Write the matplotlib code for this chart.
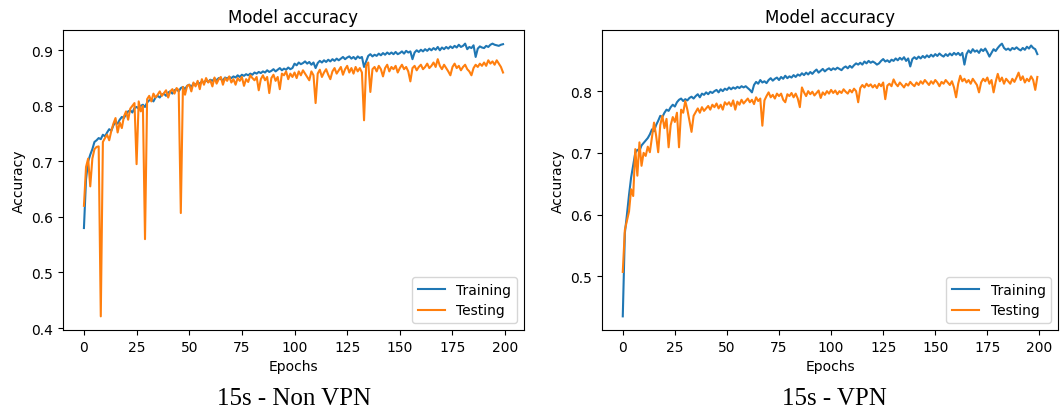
import matplotlib.pyplot as plt
import numpy as np

# accuracy per epoch, 15s windows, non-VPN traffic
nonvpn_train = [
    0.580, 0.668, 0.700, 0.712, 0.722, 0.735, 0.738, 0.742, 0.740, 0.748,
    0.745, 0.752, 0.758, 0.755, 0.765, 0.770, 0.768, 0.775, 0.780, 0.778,
    0.785, 0.790, 0.792, 0.788, 0.796, 0.798, 0.795, 0.800, 0.802, 0.798,
    0.806, 0.810, 0.812, 0.808, 0.815, 0.818, 0.815, 0.820, 0.822, 0.818,
    0.824, 0.826, 0.822, 0.828, 0.830, 0.826, 0.832, 0.834, 0.830, 0.836,
    0.838, 0.834, 0.840, 0.838, 0.842, 0.840, 0.844, 0.842, 0.846, 0.843,
    0.847, 0.845, 0.849, 0.846, 0.850, 0.848, 0.846, 0.851, 0.849, 0.852,
    0.850, 0.853, 0.851, 0.855, 0.852, 0.856, 0.854, 0.857, 0.855, 0.858,
    0.856, 0.860, 0.858, 0.861, 0.859, 0.862, 0.860, 0.864, 0.861, 0.863,
    0.866, 0.862, 0.865, 0.868, 0.864, 0.867, 0.865, 0.869, 0.866, 0.868,
    0.876, 0.873, 0.878, 0.875, 0.877, 0.880, 0.876, 0.879, 0.874, 0.878,
    0.868, 0.877, 0.881, 0.878, 0.882, 0.879, 0.883, 0.880, 0.884, 0.881,
    0.885, 0.882, 0.885, 0.888, 0.884, 0.887, 0.889, 0.885, 0.888, 0.884,
    0.889, 0.886, 0.888, 0.870, 0.880, 0.890, 0.893, 0.889, 0.892, 0.890,
    0.894, 0.891, 0.895, 0.892, 0.896, 0.893, 0.896, 0.893, 0.897, 0.893,
    0.895, 0.898, 0.894, 0.899, 0.896, 0.898, 0.884, 0.896, 0.900, 0.897,
    0.901, 0.898, 0.902, 0.899, 0.903, 0.900, 0.904, 0.901, 0.906, 0.900,
    0.905, 0.902, 0.906, 0.903, 0.907, 0.904, 0.908, 0.905, 0.910, 0.906,
    0.908, 0.912, 0.902, 0.906, 0.904, 0.909, 0.888, 0.903, 0.907, 0.905,
    0.904, 0.908, 0.906, 0.910, 0.912, 0.910, 0.909, 0.908, 0.910, 0.911,
]
nonvpn_test = [
    0.620, 0.690, 0.705, 0.655, 0.705, 0.722, 0.726, 0.727, 0.421, 0.735,
    0.742, 0.748, 0.738, 0.755, 0.768, 0.778, 0.752, 0.770, 0.760, 0.781,
    0.790, 0.775, 0.795, 0.800, 0.805, 0.695, 0.808, 0.790, 0.800, 0.560,
    0.812, 0.818, 0.808, 0.822, 0.815, 0.820, 0.826, 0.818, 0.823, 0.828,
    0.815, 0.826, 0.830, 0.822, 0.832, 0.828, 0.607, 0.834, 0.820, 0.836,
    0.838, 0.826, 0.842, 0.835, 0.845, 0.830, 0.848, 0.838, 0.850, 0.842,
    0.846, 0.835, 0.851, 0.840, 0.848, 0.852, 0.838, 0.850, 0.845, 0.853,
    0.842, 0.848, 0.838, 0.850, 0.845, 0.852, 0.836, 0.848, 0.843, 0.855,
    0.850, 0.846, 0.852, 0.828, 0.848, 0.855, 0.846, 0.852, 0.823, 0.850,
    0.856, 0.845, 0.852, 0.830, 0.858, 0.855, 0.862, 0.848, 0.858, 0.852,
    0.860, 0.850, 0.862, 0.855, 0.864, 0.858, 0.852, 0.846, 0.862, 0.855,
    0.805, 0.858, 0.865, 0.852, 0.860, 0.866, 0.856, 0.848, 0.862, 0.868,
    0.858, 0.864, 0.870, 0.856, 0.866, 0.872, 0.860, 0.868, 0.858, 0.870,
    0.862, 0.868, 0.860, 0.774, 0.872, 0.878, 0.825, 0.866, 0.870, 0.862,
    0.872, 0.866, 0.853, 0.868, 0.874, 0.862, 0.870, 0.866, 0.872, 0.860,
    0.868, 0.874, 0.866, 0.870, 0.862, 0.844, 0.868, 0.872, 0.864, 0.870,
    0.874, 0.866, 0.870, 0.876, 0.868, 0.872, 0.878, 0.870, 0.884, 0.872,
    0.866, 0.874, 0.868, 0.862, 0.855, 0.870, 0.876, 0.868, 0.872, 0.864,
    0.870, 0.874, 0.866, 0.862, 0.855, 0.868, 0.874, 0.870, 0.876, 0.872,
    0.878, 0.872, 0.882, 0.876, 0.880, 0.874, 0.882, 0.876, 0.870, 0.860,
]

# accuracy per epoch, 15s windows, VPN traffic
vpn_train = [
    0.435, 0.570, 0.600, 0.632, 0.660, 0.680, 0.700, 0.705, 0.703, 0.712,
    0.716, 0.720, 0.724, 0.730, 0.738, 0.735, 0.745, 0.752, 0.760, 0.758,
    0.765, 0.770, 0.768, 0.774, 0.778, 0.775, 0.782, 0.786, 0.788, 0.784,
    0.787, 0.785, 0.789, 0.791, 0.788, 0.792, 0.795, 0.790, 0.796, 0.794,
    0.798, 0.795, 0.799, 0.797, 0.800, 0.802, 0.798, 0.803, 0.800, 0.804,
    0.802, 0.806, 0.803, 0.806, 0.804, 0.807, 0.805, 0.808, 0.806, 0.808,
    0.805, 0.802, 0.798, 0.810, 0.815, 0.812, 0.818, 0.814, 0.816, 0.813,
    0.818, 0.821, 0.817, 0.820, 0.822, 0.818, 0.823, 0.820, 0.825, 0.821,
    0.824, 0.822, 0.826, 0.823, 0.827, 0.825, 0.829, 0.826, 0.830, 0.827,
    0.831, 0.828, 0.832, 0.835, 0.830, 0.833, 0.836, 0.832, 0.835, 0.837,
    0.834, 0.837, 0.835, 0.838, 0.836, 0.834, 0.838, 0.840, 0.837, 0.841,
    0.838, 0.842, 0.845, 0.843, 0.846, 0.843, 0.848, 0.845, 0.849, 0.846,
    0.848, 0.846, 0.843, 0.845, 0.849, 0.852, 0.848, 0.850, 0.847, 0.851,
    0.849, 0.853, 0.850, 0.854, 0.851, 0.855, 0.849, 0.853, 0.840, 0.852,
    0.855, 0.852, 0.856, 0.853, 0.857, 0.854, 0.858, 0.855, 0.859, 0.856,
    0.860, 0.857, 0.861, 0.858, 0.856, 0.860, 0.857, 0.861, 0.858, 0.862,
    0.859, 0.862, 0.858, 0.862, 0.843, 0.860, 0.866, 0.862, 0.868, 0.864,
    0.866, 0.862, 0.868, 0.865, 0.869, 0.863, 0.856, 0.862, 0.868, 0.865,
    0.870, 0.874, 0.877, 0.870, 0.867, 0.869, 0.866, 0.870, 0.868, 0.871,
    0.868, 0.866, 0.870, 0.867, 0.872, 0.869, 0.874, 0.870, 0.868, 0.860,
]
vpn_test = [
    0.507, 0.575, 0.590, 0.605, 0.641, 0.630, 0.706, 0.663, 0.717, 0.679,
    0.700, 0.695, 0.710, 0.701, 0.725, 0.749, 0.728, 0.701, 0.745, 0.760,
    0.740, 0.755, 0.709, 0.745, 0.758, 0.750, 0.765, 0.709, 0.770, 0.765,
    0.784, 0.770, 0.752, 0.734, 0.760, 0.766, 0.772, 0.765, 0.774, 0.768,
    0.772, 0.776, 0.770, 0.778, 0.774, 0.780, 0.772, 0.778, 0.770, 0.782,
    0.778, 0.782, 0.776, 0.785, 0.770, 0.783, 0.778, 0.786, 0.780, 0.784,
    0.788, 0.782, 0.786, 0.779, 0.790, 0.784, 0.788, 0.744, 0.785, 0.792,
    0.798, 0.790, 0.794, 0.788, 0.796, 0.792, 0.796, 0.786, 0.782, 0.795,
    0.792, 0.797, 0.790, 0.796, 0.788, 0.774, 0.806, 0.798, 0.792, 0.800,
    0.795, 0.799, 0.793, 0.797, 0.801, 0.789, 0.798, 0.794, 0.800, 0.796,
    0.802, 0.797, 0.801, 0.795, 0.800, 0.797, 0.803, 0.799, 0.796, 0.802,
    0.798, 0.804, 0.800, 0.782, 0.805, 0.810, 0.806, 0.812, 0.808, 0.811,
    0.806, 0.810, 0.805, 0.812, 0.808, 0.814, 0.787, 0.809, 0.812, 0.808,
    0.819, 0.812, 0.808, 0.814, 0.810, 0.806, 0.812, 0.809, 0.815, 0.811,
    0.808, 0.814, 0.810, 0.816, 0.812, 0.818, 0.814, 0.810, 0.816, 0.812,
    0.818, 0.814, 0.808, 0.815, 0.812, 0.818, 0.814, 0.810, 0.816, 0.806,
    0.790, 0.812, 0.825, 0.816, 0.820, 0.814, 0.818, 0.812, 0.820, 0.815,
    0.810, 0.798, 0.814, 0.820, 0.816, 0.822, 0.812, 0.818, 0.798, 0.815,
    0.828, 0.816, 0.822, 0.812, 0.820, 0.816, 0.812, 0.820, 0.815, 0.822,
    0.830, 0.818, 0.824, 0.814, 0.820, 0.816, 0.824, 0.818, 0.802, 0.823,
]

captions = ["15s - Non VPN", "15s - VPN"]

fig = plt.figure(figsize=(10.62, 4.10), dpi=100)
ax1 = fig.add_axes([0.0593, 0.1927, 0.4341, 0.7317])
ax2 = fig.add_axes([0.5669, 0.1927, 0.4294, 0.7317])

for ax, tr, te in [(ax1, nonvpn_train, nonvpn_test), (ax2, vpn_train, vpn_test)]:
    ax.plot(np.arange(len(tr)), tr, label='Training')
    ax.plot(np.arange(len(te)), te, label='Testing')
    ax.set_title('Model accuracy', fontsize=12)
    ax.set_ylabel('Accuracy')
    ax.set_xlabel('Epochs')
    ax.set_xticks([0, 25, 50, 75, 100, 125, 150, 175, 200])
    ax.legend(loc='lower right')

ax1.set_yticks([0.4, 0.5, 0.6, 0.7, 0.8, 0.9])
ax2.set_yticks([0.5, 0.6, 0.7, 0.8])

# captions under each panel
fig.text(0.277, 0.012, captions[0], ha='center', va='baseline',
         family='Liberation Serif', fontsize=18)
fig.text(0.786, 0.012, captions[1], ha='center', va='baseline',
         family='Liberation Serif', fontsize=18)

fig.savefig('out.png', dpi=100)
